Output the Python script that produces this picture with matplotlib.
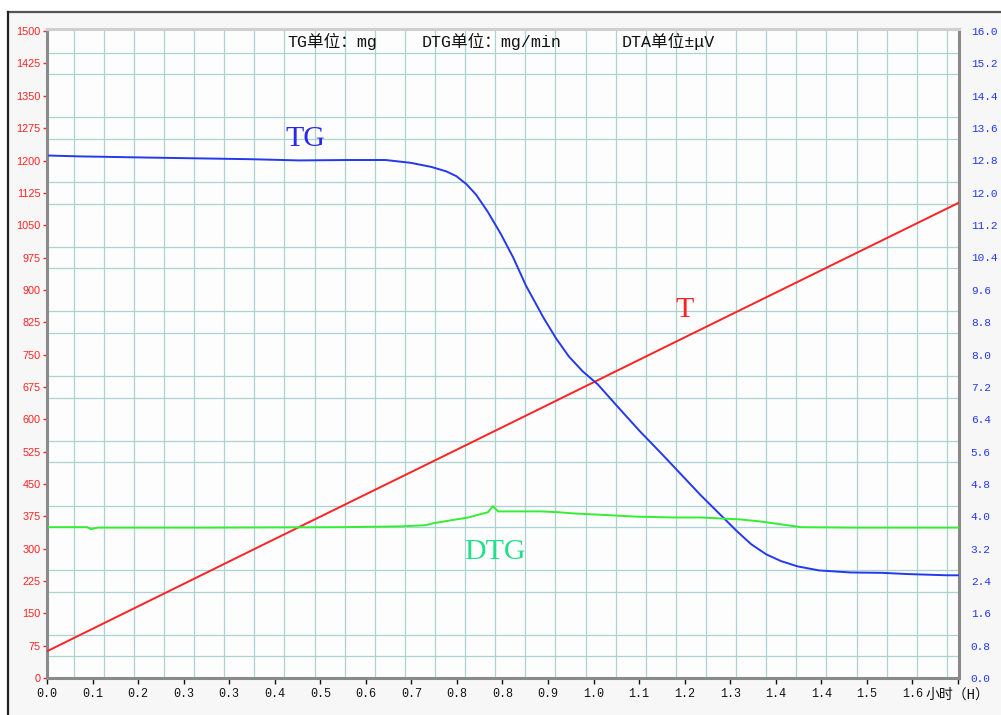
import numpy as np
import matplotlib
matplotlib.use("Agg")
from matplotlib import pyplot as plt
from matplotlib.ticker import MultipleLocator
from matplotlib.patches import Rectangle
from matplotlib.lines import Line2D

# ---- data ----
# time in hours
t_T = [0.0, 0.4, 0.8, 1.2, 1.703]
T_vals = [62, 307, 551, 796, 1103]          # temperature, left axis

t_TG = [0.004, 0.06, 0.19, 0.38, 0.47, 0.56, 0.632, 0.679, 0.717, 0.745, 0.764,
        0.783, 0.801, 0.823, 0.847, 0.870, 0.894, 0.927, 0.950, 0.974, 1.000,
        1.028, 1.071, 1.108, 1.146, 1.183, 1.220, 1.258, 1.286, 1.314, 1.342,
        1.370, 1.401, 1.441, 1.500, 1.560, 1.607, 1.680, 1.703]
TG_vals = [12.92, 12.90, 12.87, 12.83, 12.80, 12.81, 12.81, 12.74, 12.64, 12.53,
           12.41, 12.21, 11.95, 11.52, 10.98, 10.40, 9.70, 8.90, 8.40, 7.95,
           7.58, 7.26, 6.62, 6.08, 5.56, 5.04, 4.52, 4.02, 3.65, 3.31, 3.06,
           2.89, 2.76, 2.66, 2.61, 2.60, 2.57, 2.54, 2.54]   # TG, right axis

t_DTG = [0.004, 0.075, 0.082, 0.095, 0.30, 0.55, 0.661, 0.707, 0.722, 0.786,
         0.823, 0.832, 0.842, 0.922, 0.954, 0.983, 1.058, 1.100, 1.170, 1.220,
         1.295, 1.332, 1.370, 1.407, 1.500, 1.600, 1.703]
DTG_vals = [3.73, 3.73, 3.68, 3.72, 3.72, 3.73, 3.75, 3.78, 3.83, 3.97, 4.10,
            4.25, 4.12, 4.12, 4.10, 4.07, 4.02, 3.99, 3.97, 3.97, 3.92, 3.87,
            3.80, 3.73, 3.72, 3.72, 3.72]  # DTG, right axis

x_labels = ['0.0', '0.1', '0.2', '0.3', '0.3', '0.4', '0.5', '0.6', '0.7', '0.8',
            '0.8', '0.9', '1.0', '1.1', '1.2', '1.3', '1.4', '1.4', '1.5', '1.6',
            '小时（H）']
x_step = 0.085
left_ticks = list(range(0, 1501, 75))
right_ticks = [round(0.8 * i, 1) for i in range(21)]

title_parts = ['TG单位：mg', 'DTG单位：mg/min', 'DTA单位±μV']

# ---- style ----
mono = ['Liberation Mono', 'Noto Sans CJK SC']
grid_c = '#acd3d1'
blue = '#2438ee'
red = '#ff2222'
green = '#33ee33'

W, H = 1001, 715
fig = plt.figure(figsize=(W / 100, H / 100), dpi=100, facecolor='#f7f7f7')

# white margin outside the window frame
fig.patches.append(Rectangle((0, (H - 12) / H), 1, 12 / H, transform=fig.transFigure,
                             facecolor='white', edgecolor='none', zorder=-5))
fig.patches.append(Rectangle((0, 0), 8 / W, 1, transform=fig.transFigure,
                             facecolor='white', edgecolor='none', zorder=-5))
fig.lines.append(Line2D([8 / W, 1], [(H - 12) / H, (H - 12) / H],
                        transform=fig.transFigure, color='#555555', lw=1.6))
fig.lines.append(Line2D([8 / W, 8 / W], [0, (H - 12) / H],
                        transform=fig.transFigure, color='#222222', lw=1.6))

ax = fig.add_axes([47 / W, 37 / H, (959 - 47) / W, (678 - 29) / H])
ax.set_facecolor('#fdfdfd')
ax.set_xlim(0, 1.702)
ax.set_ylim(0, 1505)

# grid (pixel-style spacing of the original software)
ax.xaxis.set_minor_locator(MultipleLocator(0.05619, offset=0.0498))
ax.yaxis.set_minor_locator(MultipleLocator(50))
ax.grid(which='minor', color=grid_c, lw=0.9, zorder=0)
ax.grid(which='major', visible=False)
ax.tick_params(which='minor', length=0)
ax.set_axisbelow(True)

ax.set_xticks(np.arange(len(x_labels)) * x_step)
ax.set_xticklabels(x_labels, family=mono, fontsize=8.5, color='#111111')
ax.get_xticklabels()[-1].set_fontsize(10)
ax.tick_params(axis='x', direction='out', length=4, width=1, color='#111111', pad=3)

ax.set_yticks(left_ticks)
ax.set_yticklabels([str(v) for v in left_ticks], family='Liberation Sans',
                   fontsize=7.8, color=red)
ax.tick_params(axis='y', direction='out', length=3, width=1, color=red, pad=1.5)

for s in ['left', 'bottom', 'right']:
    ax.spines[s].set_color('#8a8a8a')
    ax.spines[s].set_linewidth(2.2)
ax.spines['top'].set_color('#cfcfcf')
ax.spines['top'].set_linewidth(2.2)

ax2 = ax.twinx()
ax2.set_ylim(0, 16.05)
ax2.set_yticks(right_ticks)
ax2.set_yticklabels([f'{v:.1f}' for v in right_ticks], family=mono,
                    fontsize=8, color=blue)
ax2.tick_params(axis='y', length=0, pad=8.5)
for s in ax2.spines.values():
    s.set_visible(False)

ax.plot(t_T, T_vals, color=red, lw=1.4, zorder=3)
ax2.plot(t_TG, TG_vals, color=blue, lw=1.4, zorder=3)
ax2.plot(t_DTG, DTG_vals, color=green, lw=1.4, zorder=3)

# curve labels
serif = 'Liberation Serif'
ax2.text(0.483, 13.02, 'TG', color='#2a2ae6', family=serif, fontsize=21.5,
         ha='center', va='bottom')
ax.text(1.19, 824, 'T', color=red, family=serif, fontsize=21.5,
        ha='center', va='bottom')
ax2.text(0.835, 2.80, 'DTG', color='#22e08a', family=serif, fontsize=21.5,
         ha='center', va='bottom')

# units line at the top
for xp, s in zip([287, 422, 622], title_parts):
    fig.text(xp / W, 1 - 41 / H, s, family=mono, fontsize=12, color='#111111',
             ha='left', va='center')

fig.savefig('out.png', dpi=100, facecolor=fig.get_facecolor())
